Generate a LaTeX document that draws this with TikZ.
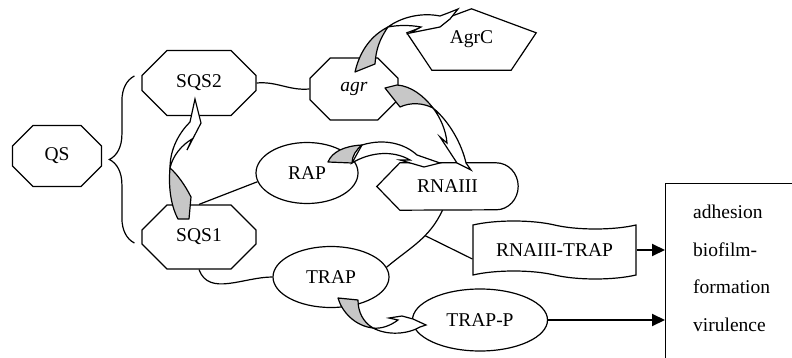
\documentclass[tikz,border=0pt]{standalone}
\usepackage{fontspec}
\setmainfont{Liberation Serif}
\usetikzlibrary{shapes.geometric, shapes.misc, shapes.symbols, arrows.meta, decorations.pathreplacing}
\tikzstyle{octo} = [chamfered rectangle,
chamfered rectangle xsep=18pt,
chamfered rectangle ysep=17pt,
minimum width=114pt,
minimum height=65pt,
inner sep=0pt,
text centered,
draw=black, line width=1.2pt]
\tikzstyle{oval} = [ellipse,
inner sep=0pt,
text centered,
draw=black, line width=1.2pt]
\tikzstyle{plain} = [rectangle, inner sep=0pt, text centered]
\tikzstyle{outline} = [draw=black, line width=1.2pt]
\tikzstyle{wave} = [tape,
tape bend top=out and in,
tape bend bottom=out and in,
minimum width=163pt,
minimum height=58pt,
tape bend height=8pt,
inner sep=0pt,
draw=black, line width=1.2pt]
\tikzstyle{link} = [line width=1.2pt]
\tikzstyle{arrow} = [line width=2pt, -{Triangle[length=13pt, width=12pt]}]
\tikzstyle{back} = [fill=black!22, draw=black, line width=1.2pt, line join=round]
\tikzstyle{front} = [fill=white, draw=black, line width=1.2pt]

\begin{document}
\begin{tikzpicture}[x=1pt, y=-1pt, font=\fontsize{19.5}{37.5}\selectfont]
    \useasboundingbox (0,0) rectangle (792,358);

    \node (qs) [octo, minimum width=89pt, minimum height=61pt] at (57,156) {QS};
    \node (sqs2) [octo] at (199,83) {SQS2};
    \node (sqs1) [octo, minimum height=64pt] at (199,237) {SQS1};
    \node (agr) [octo, minimum width=88pt, minimum height=62pt] at (354,89) {\itshape agr};
    \node (agrc) [plain, minimum width=129pt, minimum height=61pt] at (471.5,39.5) {AgrC};
    \node (rap) [oval, minimum width=102pt, minimum height=61pt] at (307,173) {RAP};
    \node (rnaiii) [plain, minimum width=141pt, minimum height=47pt] at (447.5,186.5) {RNAIII};
    \node (rnatrap) [wave] at (554.5,250) {RNAIII-TRAP};
    \node (trap) [oval, minimum width=116pt, minimum height=61pt] at (331,277) {TRAP};
    \node (trapp) [oval, minimum width=135pt, minimum height=62pt] at (480,320) {TRAP-P};
    \node (outbox) [rectangle, draw=black, line width=1.2pt, minimum width=150pt, minimum height=200pt, anchor=north west] at (665,183) {};
    \node (effects) [plain, align=left, anchor=north west] at (693,205) {adhesion\\biofilm-\\formation\\virulence};

    \draw [outline] (agrc.north) -- ([yshift=-24pt]agrc.north east) -- ([xshift=-25pt]agrc.south east)
        -- ([xshift=25pt]agrc.south west) -- ([yshift=-24pt]agrc.north west) -- cycle;
    \draw [outline] (rnaiii.west) -- ([xshift=23pt]rnaiii.north west) -- ([xshift=-22pt]rnaiii.north east)
        arc[start angle=90, end angle=-90, x radius=22pt, y radius=23.5pt] -- ([xshift=23pt]rnaiii.south west) -- cycle;

    \draw [link, decorate, decoration={brace, amplitude=25pt}] ([xshift=-7pt, yshift=-6pt]sqs1.west) -- ([xshift=-7pt, yshift=7pt]sqs2.west);
    \draw [link] (sqs2.east) to[out=5, in=185] (agr.west);
    \draw [link] (sqs1.north) -- (rap.190);
    \draw [link] (sqs1.south) to[out=-70, in=180] (trap.west);
    \draw [link] (trap.10) to[out=40, in=-115] coordinate[pos=0.62] (split) ([xshift=-5pt]rnaiii.south);
    \draw [link] (split) -- ([yshift=-9pt]rnatrap.west);
    \draw [arrow] (rnatrap.east) -- (rnatrap.east -| outbox.west);
    \draw [arrow] (trapp.east) -- (trapp.east -| outbox.west);

    % curved block arrows
    \draw [front] (170,168) .. controls (170,148) and (180,132) .. (190,122) -- (195,99) -- (201,123) -- (187,150) -- (192,139) .. controls (182,145) and (173,155) .. (170,168) -- cycle;
    \draw [back] (170,168) .. controls (168,190) and (172,208) .. (178,219) -- (189,219) -- (191,197) .. controls (185,185) and (177,174) .. (170,168) -- cycle;

    \draw [front] (388,27) .. controls (400,18) and (420,12) .. (440,16) -- (448,13) -- (458,9) -- (450,19) -- (440,27) -- (410,33) -- (421,27) .. controls (410,25) and (398,25) .. (388,27) -- cycle;
    \draw [back] (355,72) -- (375,64) .. controls (376,50) and (379,40) .. (388,27) .. controls (372,35) and (360,50) .. (355,72) -- cycle;

    \draw [front] (433,108) .. controls (450,122) and (462,145) .. (466,163) -- (471,170) -- (457,163) -- (440,137) -- (447,143) .. controls (446,130) and (440,117) .. (433,108) -- cycle;
    \draw [back] (385,88) -- (400,107) .. controls (411,102) and (423,103) .. (433,108) .. controls (424,96) and (411,86) .. (397,85) -- cycle;

    \draw [front] (362,145) .. controls (385,138) and (405,144) .. (417,155) -- (440,163) -- (424,167) -- (400,160) -- (410,160) .. controls (393,150) and (370,152) .. (352,163) -- cycle;
    \draw [back] (328,162) .. controls (332,152) and (344,146) .. (362,145) .. controls (356,150) and (352,156) .. (352,163) -- cycle;

    \draw [front] (373,328) .. controls (388,336) and (408,334) .. (420,327) -- (426,325) -- (413,319) -- (402,316) -- (389,318) -- (398,320) .. controls (390,326) and (381,329) .. (373,328) -- cycle;
    \draw [back] (338,298) -- (358,300) .. controls (358,312) and (363,322) .. (373,328) .. controls (355,326) and (342,312) .. (338,298) -- cycle;

\end{tikzpicture}
\end{document}
